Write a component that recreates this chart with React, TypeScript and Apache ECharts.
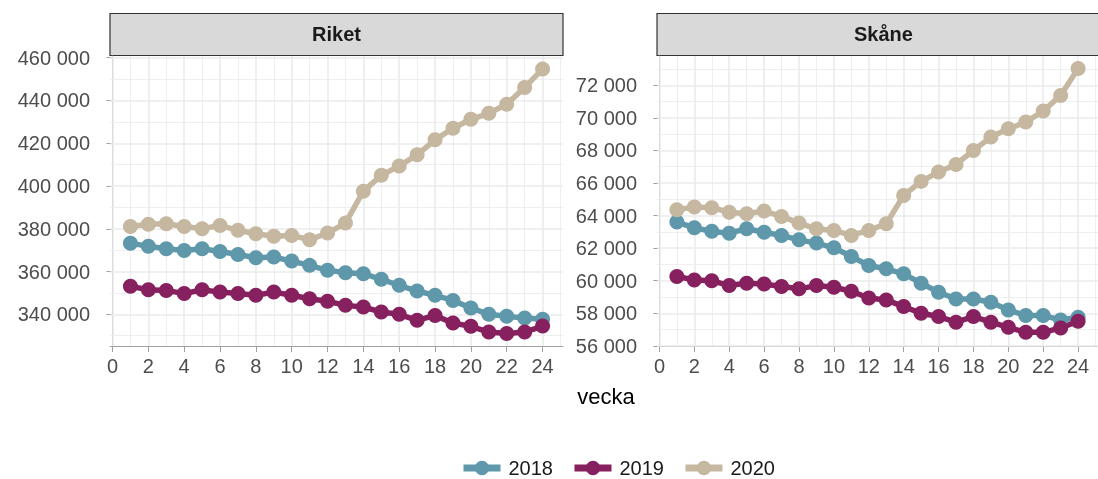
import React, { useEffect, useRef } from "react";
import * as echarts from "echarts";

const weeks = [1, 2, 3, 4, 5, 6, 7, 8, 9, 10, 11, 12, 13, 14, 15, 16, 17, 18, 19, 20, 21, 22, 23, 24];
const years = ["2018", "2019", "2020"];
const colors = ["#5e98aa", "#87205e", "#c5b7a0"];
const panels = ["Riket", "Skåne"];

const riket2018 = [373300, 371800, 370700, 369900, 370700, 369400, 368000, 366500, 366800, 364900, 362900, 360600, 359500, 359000, 356400, 353600, 350900, 348900, 346500, 343000, 340000, 339100, 338300, 337700];
const riket2019 = [353100, 351500, 351200, 349700, 351500, 350400, 349700, 348900, 350400, 348900, 347300, 346100, 344200, 343400, 341100, 340000, 337200, 339500, 335900, 334400, 331700, 331000, 331700, 334500];
const riket2020 = [381100, 382100, 382400, 381100, 380000, 381600, 379300, 377700, 376500, 376900, 374900, 378000, 382700, 397600, 405000, 409400, 414600, 421600, 427000, 431200, 434000, 438200, 446100, 454700];

const skane2018 = [63600, 63250, 63030, 62920, 63190, 62980, 62780, 62510, 62310, 62020, 61490, 60930, 60730, 60420, 59850, 59290, 58880, 58880, 58680, 58200, 57860, 57860, 57590, 57750];
const skane2019 = [60260, 60050, 60000, 59700, 59850, 59800, 59640, 59500, 59700, 59600, 59350, 58940, 58820, 58410, 58000, 57800, 57450, 57800, 57450, 57140, 56830, 56830, 57100, 57510];
const skane2020 = [64360, 64520, 64480, 64210, 64110, 64280, 63950, 63540, 63190, 63090, 62780, 63090, 63500, 65240, 66100, 66670, 67140, 68000, 68820, 69330, 69740, 70420, 71380, 73030];

const xTicks = [0, 2, 4, 6, 8, 10, 12, 14, 16, 18, 20, 22, 24];
const xMinor = [1, 3, 5, 7, 9, 11, 13, 15, 17, 19, 21, 23, 25];
const riketTicks = [340000, 360000, 380000, 400000, 420000, 440000, 460000];
const riketMinor = [330000, 350000, 370000, 390000, 410000, 430000, 450000];
const skaneTicks = [56000, 58000, 60000, 62000, 64000, 66000, 68000, 70000, 72000];
const skaneMinor = [57000, 59000, 61000, 63000, 65000, 67000, 69000, 71000, 73000];

const FONT = "'Liberation Sans', Arial, sans-serif";
const fmt = (v: number) => String(Math.round(v)).replace(/\B(?=(\d{3})+(?!\d))/g, " ");

export default function App() {
  const ref = useRef<HTMLDivElement>(null);
  useEffect(() => {
    if (!ref.current) return;
    const chart = echarts.init(ref.current, undefined, { renderer: "svg" });

    const gridLefts = [110, 657];
    const gridW = 453;
    const yMins = [325200, 55990];
    const yMaxs = [460800, 73800];
    const yTicks = [riketTicks, skaneTicks];
    const yMinor = [riketMinor, skaneMinor];
    const data = [
      [riket2018, riket2019, riket2020],
      [skane2018, skane2019, skane2020],
    ];
    const axisColor = "#a0a0a0";

    const grid = gridLefts.map((l) => ({ left: l, top: 56, width: gridW, height: 290 }));
    const xAxis = gridLefts.map((_, i) => ({
      type: "value",
      gridIndex: i,
      min: -0.14,
      max: 25.14,
      axisLine: { show: true, lineStyle: { color: axisColor, width: 1 } },
      axisTick: { show: true, length: 6, customValues: xTicks, lineStyle: { color: axisColor, width: 1 } },
      axisLabel: { customValues: xTicks, fontSize: 20, color: "#4d4d4d", margin: 10, fontFamily: FONT },
      splitLine: { show: false },
    }));
    const yAxis = gridLefts.map((_, i) => ({
      type: "value",
      gridIndex: i,
      min: yMins[i],
      max: yMaxs[i],
      axisLine: { show: true, lineStyle: { color: axisColor, width: 1 } },
      axisTick: { show: true, length: 6, customValues: yTicks[i], lineStyle: { color: axisColor, width: 1 } },
      axisLabel: { customValues: yTicks[i], fontSize: 20, color: "#4d4d4d", margin: 20, fontFamily: FONT, formatter: (v: number) => fmt(v) },
      splitLine: { show: false },
    }));

    const series: any[] = [];
    gridLefts.forEach((_, i) => {
      const mk: any[] = [];
      xTicks.forEach((v) => mk.push({ xAxis: v, lineStyle: { width: 1.6 } }));
      xMinor.forEach((v) => mk.push({ xAxis: v, lineStyle: { width: 0.8 } }));
      yTicks[i].forEach((v) => mk.push({ yAxis: v, lineStyle: { width: 1.6 } }));
      yMinor[i].forEach((v) => mk.push({ yAxis: v, lineStyle: { width: 0.8 } }));
      series.push({
        type: "line",
        xAxisIndex: i,
        yAxisIndex: i,
        data: [],
        z: 1,
        silent: true,
        markLine: {
          z: 1,
          silent: true,
          symbol: ["none", "none"],
          label: { show: false },
          animation: false,
          lineStyle: { color: "#ebebeb", type: "solid" },
          data: mk,
        },
      });
      years.forEach((y, k) => {
        series.push({
          type: "line",
          name: y,
          xAxisIndex: i,
          yAxisIndex: i,
          z: 3,
          symbol: "circle",
          symbolSize: 15,
          showSymbol: true,
          lineStyle: { width: 5.5, color: colors[k] },
          itemStyle: { color: colors[k] },
          data: weeks.map((w, j) => [w, data[i][k][j]]),
        });
      });
    });

    const graphic: any[] = [];
    gridLefts.forEach((l, i) => {
      graphic.push({
        type: "rect",
        shape: { x: l, y: 13.5, width: gridW, height: 42 },
        style: { fill: "#d9d9d9", stroke: "#333333", lineWidth: 1.2 },
      });
      graphic.push({
        type: "text",
        x: l + gridW / 2,
        y: 34,
        style: { text: panels[i], fontSize: 20, fontWeight: "bold", fill: "#1a1a1a", textAlign: "center", textVerticalAlign: "middle", fontFamily: FONT },
      });
    });
    graphic.push({
      type: "text",
      x: 606,
      y: 396,
      style: { text: "vecka", fontSize: 22, fill: "#000000", textAlign: "center", textVerticalAlign: "middle", fontFamily: FONT },
    });

    chart.setOption({
      animation: false,
      textStyle: { fontFamily: FONT },
      grid,
      xAxis,
      yAxis,
      series,
      graphic,
      legend: {
        data: years,
        left: 455,
        top: 453,
        itemWidth: 37,
        itemHeight: 18,
        itemGap: 18,
        lineStyle: { width: 7 },
        textStyle: { fontSize: 20, color: "#1a1a1a", fontFamily: FONT, padding: [0, 0, 0, 3] },
      },
    });
    return () => chart.dispose();
  }, []);
  return <div ref={ref} style={{ position: "fixed", left: 0, top: 0, width: 1098, height: 479 }} />;
}
